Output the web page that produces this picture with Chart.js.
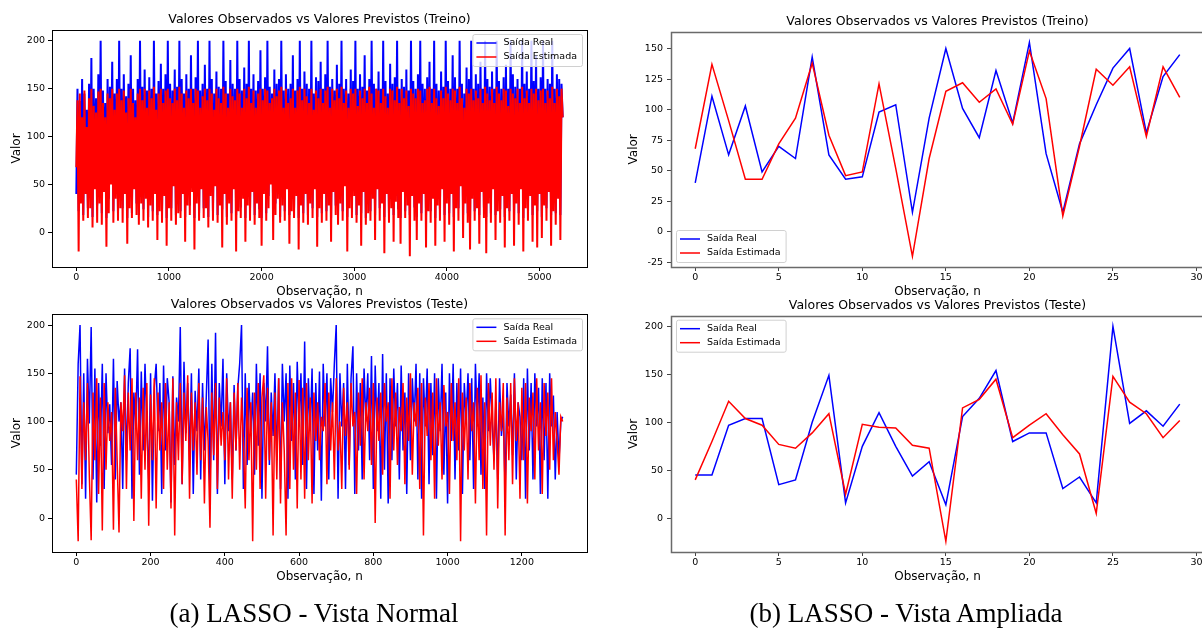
<!DOCTYPE html>
<html>
<head>
<meta charset="utf-8">
<script src="https://cdn.jsdelivr.net/npm/chart.js@4.4.1/dist/chart.umd.min.js"></script>
<style>
  html, body { margin: 0; padding: 0; background: #fff; }
  body { width: 1202px; height: 630px; position: relative; overflow: hidden; }
  .box { position: absolute; }
  .cap { position: absolute; top: 598px; font-family: 'Liberation Serif', 'Times New Roman', serif; font-size: 27px; color: #000; text-align: center; width: 600px; }
</style>
</head>
<body>
<div class="box" style="left:0;top:0;width:600px;height:300px"><canvas id="c1"></canvas></div>
<div class="box" style="left:0;top:290px;width:600px;height:310px"><canvas id="c2"></canvas></div>
<div class="box" style="left:600px;top:0;width:610px;height:300px"><canvas id="c3"></canvas></div>
<div class="box" style="left:600px;top:290px;width:610px;height:310px"><canvas id="c4"></canvas></div>
<div class="cap" style="left:14px">(a) LASSO - Vista Normal</div>
<div class="cap" style="left:606px">(b) LASSO - Vista Ampliada</div>
<script>
// vista normal - treino (amostrada a cada 12.5 observações)
const passoTreino = 12.5;
const treinoReal = [
  40,150,22,137,55,160,18,145,70,128,25,155,40,182,16,150,62,140,28,165,
  45,200,20,148,58,135,15,160,35,152,70,178,22,145,50,160,17,200,40,150,
  25,165,60,142,15,155,38,185,20,150,66,138,30,160,18,200,45,152,24,170,
  55,148,16,162,40,150,22,200,60,145,18,158,35,176,20,150,50,165,15,200,
  42,155,25,148,68,170,18,152,36,200,22,160,55,145,16,165,40,150,28,185,
  60,150,15,162,44,200,20,148,58,155,25,175,38,150,16,200,50,160,22,145,
  65,168,18,152,40,150,24,200,55,158,16,145,42,180,20,155,62,150,18,200,
  35,160,26,148,50,172,15,155,40,200,22,150,60,165,18,148,45,158,24,190,
  15,150,55,162,20,200,38,152,66,145,18,170,30,155,50,160,16,200,42,148,
  22,165,60,150,18,155,35,185,24,148,52,160,15,200,40,150,20,168,58,155,
  18,150,44,200,25,145,62,162,16,158,38,178,20,150,55,165,22,200,40,152,
  15,160,60,148,28,175,18,155,45,200,22,150,66,160,16,145,38,170,25,158,
  52,200,18,150,40,165,20,152,58,185,15,148,35,160,22,200,50,155,18,150,
  62,168,25,150,42,200,16,158,55,145,20,176,38,155,18,162,48,200,24,150,
  15,160,60,152,22,170,40,148,18,200,55,158,26,150,16,165,44,200,20,155,
  58,150,18,162,36,178,22,150,50,200,15,155,40,148,24,168,60,152,18,200,
  42,158,20,150,55,185,16,162,38,150,25,200,62,155,18,145,45,172,20,160,
  15,200,50,150,22,165,40,155,18,178,58,150,26,200,16,160,44,152,20,168,
  60,150,18,200,35,158,24,150,52,162,16,175,40,150,22,200,55,165,18,152,
  45,160,20,150,62,200,15,155,38,168,24,150,50,200,18,158,42,185,22,150,
  55,162,16,200,40,150,25,160,58,155,18,200,36,150,20,165,48,160,18,155,
  120
];
const treinoEstimada = [
  68,138,-20,145,30,120,12,148,40,110,15,140,25,150,5,132,45,125,10,147,
  30,150,8,135,42,120,-15,145,20,140,50,150,10,128,35,145,12,150,25,138,
  10,148,40,125,-12,140,25,150,15,135,45,120,18,145,8,150,30,138,12,150,
  35,130,5,148,28,140,12,152,40,128,-8,145,22,150,10,135,38,148,-14,150,
  25,140,12,135,48,150,8,138,20,152,15,145,40,130,-10,148,28,140,18,150,
  42,135,-18,150,30,148,12,130,45,142,15,150,25,138,5,150,38,145,12,128,
  48,150,10,140,28,135,-16,152,40,145,8,130,30,150,12,142,45,138,-20,150,
  22,145,15,130,35,150,-10,140,28,152,12,135,42,148,8,130,30,145,15,150,
  -14,138,40,150,12,148,25,135,50,140,-8,150,18,142,35,148,10,152,28,130,
  12,150,45,135,-12,140,22,150,15,130,38,148,-18,152,28,138,10,150,40,142,
  8,135,30,150,15,128,45,148,-15,140,25,150,10,135,40,148,12,152,28,130,
  -10,150,42,138,18,150,8,140,30,152,12,135,48,148,-20,130,25,150,15,145,
  38,150,10,132,28,148,-14,140,42,150,8,135,20,152,12,145,35,130,-8,150,
  45,148,12,135,30,150,-22,142,40,130,10,150,25,148,-10,138,32,152,15,135,
  -12,150,42,140,15,148,28,132,-25,150,38,145,12,140,-8,150,30,148,12,135,
  40,138,-16,150,22,152,10,135,35,150,-14,140,28,132,12,148,45,140,-10,152,
  30,145,8,138,40,150,-20,148,25,135,12,152,48,140,-6,130,30,150,10,145,
  -18,150,35,138,12,148,25,140,-12,150,42,135,15,152,-22,145,30,138,10,150,
  45,135,-8,152,22,145,10,138,38,150,-16,148,25,132,12,150,40,145,-14,140,
  30,150,8,135,45,152,-20,140,25,148,12,135,38,150,-10,145,28,150,-16,138,
  40,148,-6,150,28,135,12,148,42,140,-14,152,22,135,8,150,35,142,-8,150,
  120
];

// vista normal - teste (amostrada a cada 5 observações)
const passoTeste = 5;
const testeReal = [
  45,160,200,35,150,20,165,98,198,40,155,16,140,75,160,30,150,88,118,55,
  165,40,142,100,120,30,155,60,140,176,20,130,95,175,45,152,70,160,95,40,
  150,18,135,160,90,140,25,158,70,145,120,16,147,55,125,100,198,35,162,88,
  140,60,150,25,132,90,155,40,140,70,125,185,30,160,60,192,25,140,95,165,
  35,150,90,120,40,138,70,135,160,200,30,150,55,140,90,130,45,160,75,150,
  20,140,100,178,55,130,85,150,60,145,30,160,100,150,20,158,80,140,40,162,
  95,150,55,183,30,145,90,155,25,140,70,152,18,160,95,150,40,145,110,160,
  200,20,150,95,140,30,160,55,145,178,25,150,70,140,40,155,100,150,60,168,
  30,158,90,140,20,170,50,150,15,145,60,155,95,140,40,158,70,130,25,150,
  60,145,100,160,40,150,20,145,95,155,35,140,65,150,20,145,90,160,45,130,
  15,150,80,160,40,140,70,155,25,140,100,150,60,145,30,160,95,150,45,125,
  30,150,90,145,100,60,120,40,145,85,110,30,140,95,128,65,150,40,120,105,
  60,145,20,155,70,140,40,150,95,135,25,145,60,140,20,150,95,127,40,110,
  60,100,105
];
const testeEstimada = [
  40,-24,147,30,120,60,140,45,-23,130,60,145,25,125,-13,140,50,120,80,110,
  -12,135,60,-15,120,90,148,30,130,70,145,-3,130,60,125,20,135,50,140,-8,
  128,60,145,10,130,70,120,30,140,50,120,10,145,-18,120,60,140,35,130,80,
  148,20,130,70,120,45,140,60,125,15,115,80,-10,130,65,140,30,125,75,110,
  60,145,40,120,20,130,70,140,50,125,80,10,135,60,120,-24,130,50,140,30,
  125,148,20,135,60,120,-18,130,40,145,15,120,70,-18,140,30,145,50,130,10,
  143,40,135,20,140,60,125,15,130,80,120,60,105,90,140,35,130,70,120,40,
  145,70,100,30,135,85,120,50,140,95,110,25,130,75,145,40,120,90,135,55,
  140,-5,125,80,130,45,140,100,120,20,145,70,130,55,115,90,140,35,125,80,
  150,45,120,95,135,30,140,-18,125,85,140,60,130,20,145,75,120,40,138,95,
  110,25,140,80,120,60,145,-24,130,70,125,40,140,90,120,15,135,60,148,30,
  120,-18,140,75,130,50,145,10,120,90,140,-18,125,60,140,35,145,80,120,20,
  135,60,140,15,125,90,130,40,145,70,120,25,140,85,130,50,145,60,110,80,
  45,105,100
];

// vista ampliada - primeiras 30 observações
const ampTreinoReal = [40, 111, 63, 103, 49, 70, 60, 143, 63, 43, 45, 98, 104, 16, 93,
  150, 101, 77, 132, 89, 155, 64, 16, 72, 104, 134, 150, 81, 127, 145];
const ampTreinoEstimada = [68, 137, 91, 43, 43, 72, 93, 138, 79, 46, 49, 121, 52, -20, 60,
  115, 122, 106, 117, 88, 148, 109, 13, 70, 133, 120, 135, 78, 135, 110];
const ampTesteReal = [45, 45, 97, 104, 104, 35, 40, 100, 149, 16, 75, 110, 75, 44, 59,
  14, 106, 125, 154, 80, 89, 89, 31, 43, 16, 200, 99, 112, 96, 119];
const ampTesteEstimada = [40, 80, 122, 104, 97, 77, 73, 89, 109, 25, 98, 95, 94, 76, 73,
  -24, 115, 124, 145, 84, 97, 109, 87, 67, 5, 148, 121, 109, 84, 102];

const ticksY200 = [0, 50, 100, 150, 200];
const ticksY150 = [-25, 0, 25, 50, 75, 100, 125, 150];
const ticksXTreino = [0, 1000, 2000, 3000, 4000, 5000];
const ticksXTeste = [0, 200, 400, 600, 800, 1000, 1200];
const ticksX30 = [0, 5, 10, 15, 20, 25, 30];

const FONT = 'DejaVu Sans';

// moldura dos eixos + título centrado na área do gráfico
const frame = {
  id: 'frame',
  afterDatasetsDraw(chart, args, opts) {
    const a = chart.chartArea, ctx = chart.ctx;
    ctx.save();
    ctx.strokeStyle = opts.color;
    ctx.lineWidth = opts.width;
    ctx.strokeRect(Math.round(a.left) + 0.5, Math.round(a.top) + 0.5,
      Math.round(a.right - a.left), Math.round(a.bottom - a.top));
    ctx.fillStyle = '#000';
    ctx.font = '12.5px "' + FONT + '"';
    ctx.textAlign = 'center';
    ctx.textBaseline = 'middle';
    ctx.fillText(opts.title, (a.left + a.right) / 2, a.top - 10);
    ctx.restore();
  }
};

const insetLegend = {
  id: 'insetLegend',
  afterDraw(chart, args, opts) {
    const a = chart.chartArea, ctx = chart.ctx;
    const sets = chart.data.datasets;
    ctx.save();
    ctx.font = '9.5px "' + FONT + '"';
    let tw = 0;
    sets.forEach(d => { tw = Math.max(tw, ctx.measureText(d.label).width); });
    const w = 4 + 20 + 7 + tw + 5, row = 14, h = 4 + row * sets.length;
    const x = opts.corner[1] === 'r' ? a.right - 5 - w : a.left + 5;
    const y = opts.corner[0] === 'u' ? a.top + 4 : a.bottom - 5 - h;
    ctx.fillStyle = 'rgba(255,255,255,0.8)';
    ctx.strokeStyle = '#d0d0d0';
    ctx.lineWidth = 1;
    ctx.beginPath();
    ctx.roundRect(x + 0.5, y + 0.5, w, h, 2);
    ctx.fill();
    ctx.stroke();
    sets.forEach((d, i) => {
      const cy = y + 2 + row * i + row / 2;
      ctx.strokeStyle = d.borderColor;
      ctx.lineWidth = 1.5;
      ctx.beginPath();
      ctx.moveTo(x + 4, cy);
      ctx.lineTo(x + 24, cy);
      ctx.stroke();
      ctx.fillStyle = '#000';
      ctx.textBaseline = 'middle';
      ctx.fillText(d.label, x + 31, cy);
    });
    ctx.restore();
  }
};

function pontos(valores, passo) {
  return valores.map((v, i) => ({ x: i * passo, y: v }));
}

function grafico(id, c) {
  const eixo = (ticks) => (scale) => { scale.ticks = ticks.map(v => ({ value: v })); };
  return new Chart(document.getElementById(id), {
    type: 'line',
    data: {
      datasets: [{
        label: 'Saída Real',
        data: pontos(c.real, c.passo),
        borderColor: '#0000ff',
        borderWidth: c.espessura,
        pointRadius: 0,
        tension: 0,
        order: 2
      }, {
        label: 'Saída Estimada',
        data: pontos(c.estimada, c.passo),
        borderColor: '#ff0000',
        borderWidth: c.espessura,
        pointRadius: 0,
        tension: 0,
        order: 1
      }]
    },
    options: {
      responsive: true,
      maintainAspectRatio: false,
      animation: false,
      devicePixelRatio: 1,
      layout: { padding: { left: 0, top: c.top, right: c.padRight, bottom: c.padBottom } },
      plugins: {
        legend: { display: false },
        tooltip: { enabled: false },
        title: { display: false },
        frame: { color: c.frameColor, width: c.frameWidth, title: c.titulo },
        insetLegend: { corner: c.legenda }
      },
      scales: {
        x: {
          type: 'linear',
          min: c.xMin,
          max: c.xMax,
          afterBuildTicks: eixo(c.xTicks),
          afterFit(scale) { scale.height = 33; },
          grid: { drawOnChartArea: false, drawTicks: true, tickLength: 4, tickColor: c.tickColor },
          border: { display: false },
          ticks: { color: '#000', font: { family: FONT, size: 9.5 }, padding: 1, maxRotation: 0, callback: v => String(v) },
          title: { display: true, text: 'Observação, n', color: '#000', font: { family: FONT, size: 12 }, padding: { top: 0, bottom: 1.3 } }
        },
        y: {
          min: c.yMin,
          max: c.yMax,
          afterBuildTicks: eixo(c.yTicks),
          afterFit(scale) { scale.width = c.yWidth; },
          grid: { drawOnChartArea: false, drawTicks: true, tickLength: 4, tickColor: c.tickColor },
          border: { display: false },
          ticks: { color: '#000', font: { family: FONT, size: 9.5 }, padding: c.yTickPad, callback: v => String(v) },
          title: { display: true, text: 'Valor', color: '#000', font: { family: FONT, size: 12 }, padding: { top: c.yTitlePad, bottom: 0 } }
        }
      }
    },
    plugins: [frame, insetLegend]
  });
}

grafico('c1', {
  titulo: 'Valores Observados vs Valores Previstos (Treino)',
  real: treinoReal, estimada: treinoEstimada, passo: passoTreino, espessura: 2,
  xMin: -262.5, xMax: 5512.5, xTicks: ticksXTreino,
  yMin: -36.25, yMax: 211.25, yTicks: ticksY200,
  yWidth: 52, padRight: 13, padBottom: 0, top: 30,
  yTickPad: 3, yTitlePad: 9.3, legenda: 'ur',
  frameColor: '#000', frameWidth: 1, tickColor: '#000'
});
grafico('c2', {
  titulo: 'Valores Observados vs Valores Previstos (Teste)',
  real: testeReal, estimada: testeEstimada, passo: passoTeste, espessura: 1.5,
  xMin: -65.5, xMax: 1375.5, xTicks: ticksXTeste,
  yMin: -35.2, yMax: 211.2, yTicks: ticksY200,
  yWidth: 52, padRight: 13, padBottom: 15, top: 24.3,
  yTickPad: 3, yTitlePad: 9.3, legenda: 'ur',
  frameColor: '#000', frameWidth: 1, tickColor: '#000'
});
grafico('c3', {
  titulo: 'Valores Observados vs Valores Previstos (Treino)',
  real: ampTreinoReal, estimada: ampTreinoEstimada, passo: 1, espessura: 1.5,
  xMin: -1.45, xMax: 30.45, xTicks: ticksX30,
  yMin: -28.75, yMax: 163.75, yTicks: ticksY150,
  yWidth: 71, padRight: 6, padBottom: 0, top: 31.7,
  yTickPad: 4, yTitlePad: 26.5, legenda: 'll',
  frameColor: '#6a6a6a', frameWidth: 1.5, tickColor: '#444'
});
grafico('c4', {
  titulo: 'Valores Observados vs Valores Previstos (Teste)',
  real: ampTesteReal, estimada: ampTesteEstimada, passo: 1, espessura: 1.5,
  xMin: -1.45, xMax: 30.45, xTicks: ticksX30,
  yMin: -35.2, yMax: 211.2, yTicks: ticksY200,
  yWidth: 71, padRight: 6, padBottom: 15, top: 25.7,
  yTickPad: 4, yTitlePad: 26.5, legenda: 'ul',
  frameColor: '#6a6a6a', frameWidth: 1.5, tickColor: '#444'
});
</script>
</body>
</html>
